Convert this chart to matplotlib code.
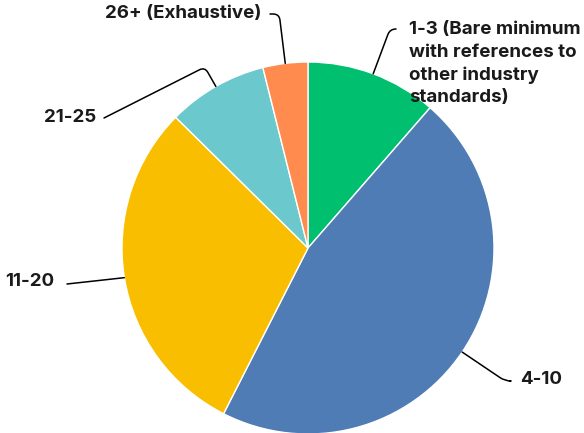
import numpy as np
import matplotlib
matplotlib.use("Agg")
import matplotlib.pyplot as plt

# share of respondents per bucket
labels = ["1-3 (Bare minimum\nwith references to\nother industry\nstandards)",
          "4-10", "11-20", "21-25", "26+ (Exhaustive)"]
values = [11.4, 46.1, 29.9, 8.7, 3.9]
colors = ["#00BF6F", "#507CB6", "#F9BE00", "#6BC8CD", "#FF8B4F"]

W, H = 584, 433

def img(x, y):
    # image pixel coords (y down) -> axes data coords (y up)
    return (x, H - y)

plt.rcParams['font.family'] = ['Inter', 'DejaVu Sans']

fig = plt.figure(figsize=(W / 100, H / 100), dpi=100)
ax = fig.add_axes([0, 0, 1, 1])

center = img(308, 248)
radius = 186
wedges, _ = ax.pie(values, colors=colors, startangle=90, counterclock=False,
                   center=center, radius=radius,
                   wedgeprops=dict(edgecolor='white', linewidth=1))

ax.set_xlim(0, W)
ax.set_ylim(0, H)
ax.set_aspect('equal')
ax.axis('off')

# label text position, alignment, line start next to text, angle of first segment
label_pos = [
    (img(409, 30), 'left', 'center_baseline', img(396, 29), 0),
    (img(520, 380), 'left', 'center', img(510, 381), 0),
    (img(5, 282), 'left', 'center', img(67, 284), None),
    (img(44, 117), 'left', 'center', img(104, 118), 26.8),
    (img(105, 13), 'left', 'center', img(270, 14), 0),
]

for w, lab, (tpos, ha, va, lstart, angA) in zip(wedges, labels, label_pos):
    mid = np.deg2rad((w.theta1 + w.theta2) / 2)
    anchor = (center[0] + radius * np.cos(mid), center[1] + radius * np.sin(mid))
    if '\n' in lab:
        # stack the lines by hand so the spacing matches
        for i, line in enumerate(lab.split('\n')):
            ax.text(tpos[0], tpos[1] - 22.4 * i, line, ha=ha, va='center',
                    fontsize=13.5, fontweight='bold', color='#1a1a1a')
    else:
        ax.text(tpos[0], tpos[1], lab, ha=ha, va=va, fontsize=13.5,
                fontweight='bold', color='#1a1a1a')
    if angA is None:
        cs = "arc3,rad=0"
    else:
        cs = f"angle,angleA={angA},angleB={np.rad2deg(mid):.1f},rad=6"
    ax.annotate('', xy=anchor, xytext=lstart,
                arrowprops=dict(arrowstyle='-', color='black', lw=1.1,
                                connectionstyle=cs, shrinkA=0, shrinkB=0,
                                patchA=None, patchB=None))

plt.savefig("out.png", dpi=100)
